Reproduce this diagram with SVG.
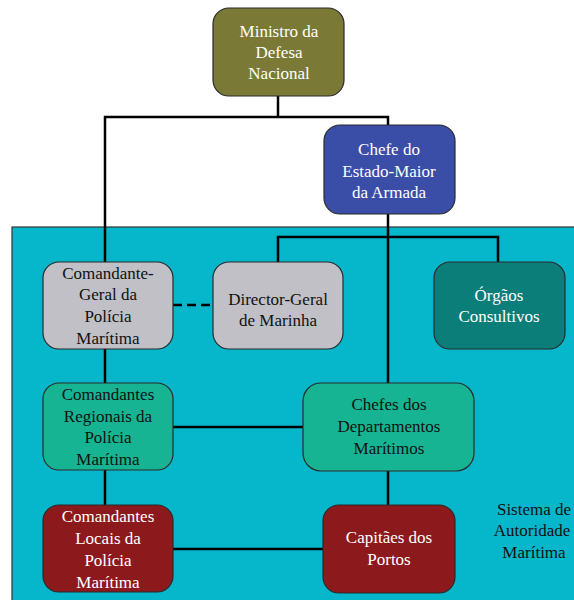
<svg xmlns="http://www.w3.org/2000/svg" width="574" height="600" viewBox="0 0 574 600">
  <style>
    .box { stroke: #2a2a2a; stroke-width: 1.2; }
    .lbl { font-size: 17px; text-anchor: middle; }
    .w { fill: #ffffff; }
    .k { fill: #111111; }
    .ln { stroke: #000000; stroke-width: 2.5; fill: none; }
  </style>
  <rect width="574" height="600" fill="#ffffff"/>
  <g font-family="'Liberation Serif', 'DejaVu Serif', serif">
  <!-- maritime authority system area -->
  <rect x="12" y="227" width="570" height="380" fill="#06b6cb" stroke="#333" stroke-width="1.2"/>
  <text class="lbl k" x="534" y="515">Sistema de</text>
  <text class="lbl k" x="532" y="536">Autoridade</text>
  <text class="lbl k" x="534" y="558">Marítima</text>

  <g id="connectors">
    <polyline class="ln" points="278,96 278,117"/>
    <polyline class="ln" points="105,262 105,117 388,117 388,125"/>
    <polyline class="ln" points="388,214 388,505"/>
    <polyline class="ln" points="278,262 278,237 498,237 498,262"/>
    <line class="ln" x1="173" y1="305" x2="213" y2="305" stroke-dasharray="9,5"/>
    <line class="ln" x1="105" y1="349" x2="105" y2="505"/>
    <line class="ln" x1="173" y1="427" x2="303" y2="427"/>
    <line class="ln" x1="173" y1="549" x2="323" y2="549"/>
  </g>

  <g id="ministro">
    <rect class="box" x="213" y="8" width="131" height="88" rx="16" fill="#7a7a36"/>
    <text class="lbl w" x="279" y="37">Ministro da</text>
    <text class="lbl w" x="279" y="58">Defesa</text>
    <text class="lbl w" x="279" y="79">Nacional</text>
  </g>

  <g id="chefe-estado-maior">
    <rect class="box" x="324" y="125" width="131" height="89" rx="16" fill="#3a4ea8"/>
    <text class="lbl w" x="389" y="155">Chefe do</text>
    <text class="lbl w" x="389" y="177">Estado-Maior</text>
    <text class="lbl w" x="389" y="198">da Armada</text>
  </g>

  <g id="comandante-geral">
    <rect class="box" x="43" y="262" width="130" height="87" rx="16" fill="#c0c0c6"/>
    <text class="lbl k" x="108" y="279">Comandante-</text>
    <text class="lbl k" x="108" y="300">Geral da</text>
    <text class="lbl k" x="108" y="322">Polícia</text>
    <text class="lbl k" x="108" y="344">Marítima</text>
  </g>

  <g id="director-geral">
    <rect class="box" x="213" y="262" width="130" height="87" rx="16" fill="#c0c0c6"/>
    <text class="lbl k" x="278" y="305">Director-Geral</text>
    <text class="lbl k" x="278" y="326">de Marinha</text>
  </g>

  <g id="orgaos-consultivos">
    <rect class="box" x="434" y="262" width="131" height="87" rx="16" fill="#0b7e7a"/>
    <text class="lbl w" x="499" y="301">Órgãos</text>
    <text class="lbl w" x="499" y="322">Consultivos</text>
  </g>

  <g id="comandantes-regionais">
    <rect class="box" x="43" y="383" width="130" height="87" rx="16" fill="#16b492"/>
    <text class="lbl k" x="108" y="400">Comandantes</text>
    <text class="lbl k" x="108" y="422">Regionais da</text>
    <text class="lbl k" x="108" y="443">Polícia</text>
    <text class="lbl k" x="108" y="465">Marítima</text>
  </g>

  <g id="chefes-departamentos">
    <rect class="box" x="303" y="383" width="171" height="88" rx="18" fill="#16b492"/>
    <text class="lbl k" x="389" y="410">Chefes dos</text>
    <text class="lbl k" x="389" y="432">Departamentos</text>
    <text class="lbl k" x="389" y="454">Marítimos</text>
  </g>

  <g id="comandantes-locais">
    <rect class="box" x="43" y="505" width="130" height="87" rx="16" fill="#8c1a1d"/>
    <text class="lbl w" x="108" y="522">Comandantes</text>
    <text class="lbl w" x="108" y="544">Locais da</text>
    <text class="lbl w" x="108" y="566">Polícia</text>
    <text class="lbl w" x="108" y="588">Marítima</text>
  </g>

  <g id="capitaes-portos">
    <rect class="box" x="323" y="505" width="132" height="88" rx="16" fill="#8c1a1d"/>
    <text class="lbl w" x="389" y="543">Capitães dos</text>
    <text class="lbl w" x="389" y="565">Portos</text>
  </g>
  </g>
</svg>
